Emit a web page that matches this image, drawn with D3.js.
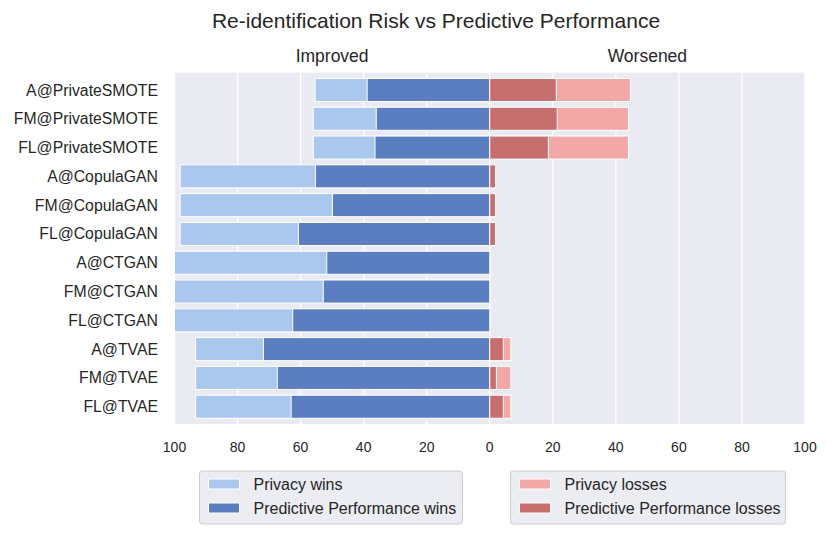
<!DOCTYPE html>
<html><head><meta charset="utf-8">
<script src="https://cdn.jsdelivr.net/npm/d3@7"></script>
<style>body{margin:0;background:#fff;} svg{display:block;font-family:"Liberation Sans",Arial,sans-serif;}</style>
</head><body><svg id="c" width="831" height="534"></svg>
<script>
const categories = ["A@PrivateSMOTE","FM@PrivateSMOTE","FL@PrivateSMOTE","A@CopulaGAN","FM@CopulaGAN","FL@CopulaGAN","A@CTGAN","FM@CTGAN","FL@CTGAN","A@TVAE","FM@TVAE","FL@TVAE"];
const privacyWins = [55.4, 56.0, 56.0, 98.2, 98.2, 98.2, 100, 100, 100, 93.3, 93.3, 93.3];
const perfWins    = [38.9, 36.0, 36.4, 55.3, 49.9, 60.7, 51.7, 52.8, 62.5, 71.8, 67.4, 63.0];
const privacyLosses = [44.6, 44.0, 44.0, 1.8, 1.8, 1.8, 0, 0, 0, 6.7, 6.7, 6.7];
const perfLosses    = [21.1, 21.4, 18.6, 1.8, 1.8, 1.8, 0, 0, 0, 4.3, 2.1, 4.3];
const xTicks = [-100,-80,-60,-40,-20,0,20,40,60,80,100];
const colors = {pw:"#aac8ed", fw:"#5a7ec0", pl:"#f3a8a8", fl:"#c76e6e"};

const svg = d3.select("#c");
const L=174.5, R=805, T=72.7, B=424;
const x = d3.scaleLinear().domain([-100,100]).range([L,R]);
const y = d3.scaleBand().domain(categories).range([T,B]).padding(0.2);

svg.append("rect").attr("x",L).attr("y",T).attr("width",R-L).attr("height",B-T).attr("fill","#eaeaf2");
svg.append("g").selectAll("line").data(xTicks).join("line")
  .attr("x1",d=>x(d)).attr("x2",d=>x(d)).attr("y1",T).attr("y2",B)
  .attr("stroke","#fff").attr("stroke-width",1.3);

function bars(vals, sign, color){
  svg.append("g").selectAll("rect").data(categories).join("rect")
    .attr("x",(d,i)=> sign<0 ? x(-vals[i]) : x(0))
    .attr("width",(d,i)=> Math.abs(x(vals[i])-x(0)))
    .attr("y",d=>y(d)).attr("height",y.bandwidth())
    .attr("fill",color).attr("stroke","#fff").attr("stroke-width",1)
    .attr("display",(d,i)=>vals[i]>0?null:"none");
}
bars(privacyWins,-1,colors.pw);
bars(perfWins,-1,colors.fw);
bars(privacyLosses,1,colors.pl);
bars(perfLosses,1,colors.fl);

// y labels
svg.append("g").selectAll("text").data(categories).join("text")
  .attr("x",158).attr("y",d=>y(d)+y.bandwidth()/2).attr("dy","0.35em")
  .attr("text-anchor","end").attr("font-size",15.8).attr("fill","#262626").text(d=>d);
// x ticks
svg.append("g").selectAll("text").data(xTicks).join("text")
  .attr("x",d=>x(d)).attr("y",452).attr("text-anchor","middle")
  .attr("font-size",14).attr("fill","#262626").text(d=>Math.abs(d));

svg.append("text").attr("x",436).attr("y",27.5).attr("text-anchor","middle").attr("font-size",21).attr("fill","#262626").text("Re-identification Risk vs Predictive Performance");
svg.append("text").attr("x",(L+x(0))/2).attr("y",62).attr("text-anchor","middle").attr("font-size",17.5).attr("fill","#262626").text("Improved");
svg.append("text").attr("x",(R+x(0))/2).attr("y",62).attr("text-anchor","middle").attr("font-size",17.5).attr("fill","#262626").text("Worsened");

function legend(x0, w, items){
  const g = svg.append("g");
  g.append("rect").attr("x",x0).attr("y",471).attr("width",w).attr("height",53).attr("rx",3)
    .attr("fill","#ececf3").attr("stroke","#cccccc").attr("stroke-width",1);
  items.forEach((it,i)=>{
    const yy = 484 + i*24;
    g.append("rect").attr("x",x0+9).attr("y",yy-5).attr("width",31).attr("height",10).attr("fill",it[1]).attr("stroke","#fff").attr("stroke-width",1);
    g.append("text").attr("x",x0+54).attr("y",yy).attr("dy","0.35em").attr("font-size",16).attr("fill","#262626").text(it[0]);
  });
}
legend(199.5, 263, [["Privacy wins",colors.pw],["Predictive Performance wins",colors.fw]]);
legend(510.5, 275, [["Privacy losses",colors.pl],["Predictive Performance losses",colors.fl]]);
</script></body></html>
